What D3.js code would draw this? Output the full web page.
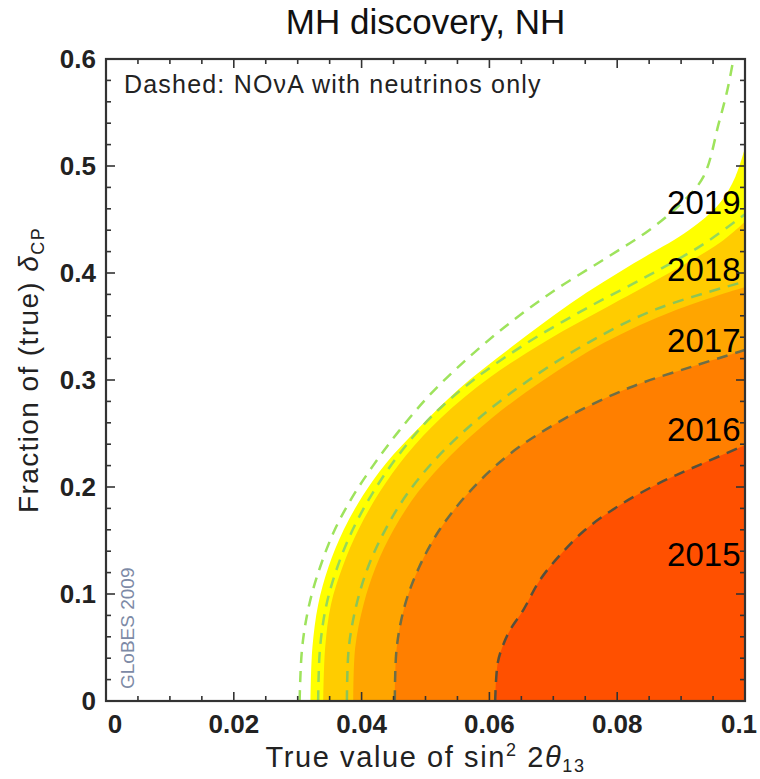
<!DOCTYPE html>
<html>
<head>
<meta charset="utf-8">
<script src="https://cdn.jsdelivr.net/npm/d3@7"></script>
<style>
  body { margin: 0; background: #fff; }
  svg text { font-family: "Liberation Sans", Arial, Helvetica, sans-serif; }
</style>
</head>
<body>
<svg id="chart" width="760" height="779"></svg>
<script>
// axis ticks
const xTicks = [0, 0.02, 0.04, 0.06, 0.08, 0.1];
const yTicks = [0, 0.1, 0.2, 0.3, 0.4, 0.5, 0.6];

// discovery reach per year: [sin^2 2theta13, fraction of deltaCP]
const years = ["2019", "2018", "2017", "2016", "2015"];
const fillColors = ["#FFFF00", "#FFCC00", "#FFA500", "#FF7F00", "#FF5000"];

const reach2019 = [[0.0320,0],[0.0323,0.05],[0.0332,0.09],[0.0348,0.125],[0.0372,0.16],[0.0402,0.192],
  [0.0438,0.222],[0.0491,0.256],[0.0551,0.291],[0.0635,0.331],[0.0728,0.372],[0.0826,0.409],
  [0.0912,0.440],[0.0960,0.465],[0.0985,0.49],[0.1,0.517]];
const reach2018 = [[0.0340,0],[0.0343,0.05],[0.0352,0.09],[0.0370,0.125],[0.0395,0.16],[0.0428,0.195],
  [0.0470,0.23],[0.0525,0.265],[0.0600,0.302],[0.0690,0.337],[0.0790,0.370],[0.0890,0.403],
  [0.0960,0.428],[0.1,0.448]];
const reach2017 = [[0.0387,0],[0.0390,0.05],[0.0403,0.09],[0.0422,0.125],[0.0450,0.16],[0.0488,0.195],
  [0.0540,0.23],[0.0605,0.265],[0.0685,0.300],[0.0780,0.335],[0.0890,0.365],[0.1,0.387]];
const reach2016 = [[0.0452,0],[0.0455,0.05],[0.0468,0.09],[0.0490,0.125],[0.0522,0.16],[0.0568,0.195],
  [0.0630,0.23],[0.0715,0.263],[0.0820,0.293],[0.0920,0.313],[0.1,0.328]];
const reach2015 = [[0.0609,0],[0.0613,0.0355],[0.0620,0.050],[0.0632,0.066],[0.0653,0.085],[0.0679,0.113],
  [0.0710,0.136],[0.0750,0.160],[0.0804,0.183],[0.0867,0.204],[0.0930,0.221],[0.1,0.239]];

// NOvA neutrinos only (dashed); 2015/2016 coincide with the full run
const nuOnly2019 = [[0.0303,0],[0.0307,0.05],[0.0318,0.09],[0.0335,0.125],[0.0358,0.16],[0.0385,0.19],
  [0.0418,0.22],[0.0458,0.252],[0.0505,0.285],[0.0560,0.317],[0.0625,0.350],[0.0700,0.383],
  [0.0780,0.413],[0.0850,0.440],[0.0900,0.465],[0.0935,0.49],[0.0959,0.54],[0.0972,0.57],[0.0982,0.60]];
const nuOnly2018 = [[0.0332,0],[0.0335,0.05],[0.0345,0.09],[0.0362,0.125],[0.0386,0.16],[0.0418,0.195],
  [0.0458,0.23],[0.0508,0.265],[0.0575,0.300],[0.0660,0.335],[0.0755,0.368],[0.0850,0.398],
  [0.0935,0.427],[0.1,0.455]];
const nuOnly2017 = [[0.0377,0],[0.0380,0.05],[0.0392,0.09],[0.0410,0.125],[0.0437,0.16],[0.0473,0.195],
  [0.0522,0.23],[0.0585,0.265],[0.0662,0.300],[0.0755,0.335],[0.0860,0.366],[0.1,0.392]];

const reach = [reach2019, reach2018, reach2017, reach2016, reach2015];
const nuOnly = [nuOnly2019, nuOnly2018, nuOnly2017, reach2016, reach2015];
const dashColors = ["#9EE35C", "#96D85A", "#8CC457", "#6E6E46", "#55503C"];
const labelY = [0.466, 0.403, 0.337, 0.254, 0.137];

const svg = d3.select("#chart");
const margin = { left: 106, top: 59 };
const width = 639, height = 642;

const x = d3.scaleLinear().domain([0, 0.1]).range([0, width]);
const y = d3.scaleLinear().domain([0, 0.6]).range([height, 0]);

const g = svg.append("g").attr("transform", `translate(${margin.left},${margin.top})`);

g.append("clipPath").attr("id", "clip")
  .append("rect").attr("width", width).attr("height", height);

const plot = g.append("g").attr("clip-path", "url(#clip)");

const line = d3.line().x(d => x(d[0])).y(d => y(d[1])).curve(d3.curveCatmullRom.alpha(0.5));

// filled regions, outermost year first
plot.selectAll("path.fill")
  .data(reach)
  .enter().append("path")
  .attr("class", "fill")
  .attr("d", d => line(d) + `L${x(0.1)},${y(0)}Z`)
  .attr("fill", (d, i) => fillColors[i]);

// dashed neutrino-only contours
plot.selectAll("path.dash")
  .data(nuOnly)
  .enter().append("path")
  .attr("class", "dash")
  .attr("d", d => line(d))
  .attr("fill", "none")
  .attr("stroke", (d, i) => dashColors[i])
  .attr("stroke-width", 2.5)
  .attr("stroke-dasharray", "11,8");

// year labels
g.selectAll("text.year")
  .data(years)
  .enter().append("text")
  .attr("class", "year")
  .attr("x", x(0.0993))
  .attr("y", (d, i) => y(labelY[i]))
  .attr("dy", "0.35em")
  .attr("text-anchor", "end")
  .attr("font-size", 33)
  .attr("fill", "#000")
  .text(d => d);

// frame
g.append("rect")
  .attr("width", width).attr("height", height)
  .attr("fill", "none").attr("stroke", "#333").attr("stroke-width", 2.2);

// ticks on all four sides, pointing inward
const xMinor = d3.range(0, 0.1001, 0.005);
const yMinor = d3.range(0, 0.6001, 0.02);
const isMajorX = v => Math.abs(v / 0.02 - Math.round(v / 0.02)) < 1e-6;
const isMajorY = v => Math.abs(v / 0.1 - Math.round(v / 0.1)) < 1e-6;
const tickG = g.append("g").attr("stroke", "#333").attr("stroke-width", 1.6);
xMinor.forEach(v => {
  const len = isMajorX(v) ? 9 : 5;
  tickG.append("line").attr("x1", x(v)).attr("x2", x(v)).attr("y1", height).attr("y2", height - len);
  tickG.append("line").attr("x1", x(v)).attr("x2", x(v)).attr("y1", 0).attr("y2", len);
});
yMinor.forEach(v => {
  const len = isMajorY(v) ? 9 : 5;
  tickG.append("line").attr("y1", y(v)).attr("y2", y(v)).attr("x1", 0).attr("x2", len);
  tickG.append("line").attr("y1", y(v)).attr("y2", y(v)).attr("x1", width).attr("x2", width - len);
});

// tick labels (end labels nudged inward like the original)
g.selectAll("text.xt")
  .data(xTicks)
  .enter().append("text")
  .attr("x", (d, i) => x(d) + (i === 0 ? 9 : i === xTicks.length - 1 ? -6 : 0))
  .attr("y", height + 32)
  .attr("text-anchor", "middle")
  .attr("font-size", 26)
  .attr("font-weight", "bold")
  .attr("fill", "#222")
  .text(d => d3.format("~g")(d));

g.selectAll("text.yt")
  .data(yTicks)
  .enter().append("text")
  .attr("x", -10)
  .attr("y", d => y(d))
  .attr("dy", "0.36em")
  .attr("text-anchor", "end")
  .attr("font-size", 26)
  .attr("font-weight", "bold")
  .attr("fill", "#222")
  .text(d => d3.format("~g")(d));

// title
svg.append("text")
  .attr("x", margin.left + width / 2)
  .attr("y", 34)
  .attr("text-anchor", "middle")
  .attr("font-size", 35)
  .attr("fill", "#111")
  .text("MH discovery, NH");

// legend note
g.append("text")
  .attr("x", 18).attr("y", 34)
  .attr("font-size", 25)
  .attr("letter-spacing", 1.2)
  .attr("fill", "#222")
  .text("Dashed: NOνA with neutrinos only");

// GLoBES stamp
g.append("text")
  .attr("transform", `translate(28,${height - 12}) rotate(-90)`)
  .attr("font-size", 19)
  .attr("fill", "#7d8aa6")
  .text("GLoBES 2009");

// x axis title
const xt = svg.append("text")
  .attr("x", margin.left + width / 2)
  .attr("y", 767)
  .attr("text-anchor", "middle")
  .attr("font-size", 29)
  .attr("letter-spacing", 1.6)
  .attr("fill", "#222");
xt.append("tspan").text("True value of sin");
xt.append("tspan").attr("font-size", 18).attr("dy", -11).text("2");
xt.append("tspan").attr("dy", 11).text(" 2");
xt.append("tspan").attr("font-style", "italic").text("θ");
xt.append("tspan").attr("font-size", 18).attr("dy", 5).text("13");

// y axis title
const yt = svg.append("text")
  .attr("transform", `translate(38,370) rotate(-90)`)
  .attr("text-anchor", "middle")
  .attr("font-size", 28)
  .attr("letter-spacing", 1.4)
  .attr("fill", "#222");
yt.append("tspan").text("Fraction of (true) ");
yt.append("tspan").attr("font-style", "italic").text("δ");
yt.append("tspan").attr("font-size", 18).attr("dy", 6).text("CP");
</script>
</body>
</html>
